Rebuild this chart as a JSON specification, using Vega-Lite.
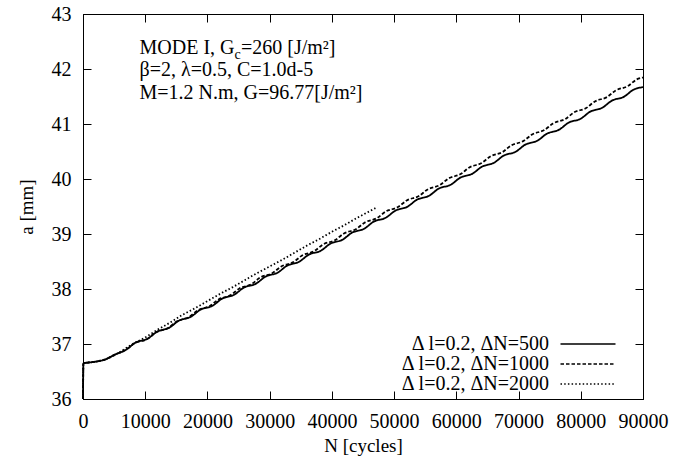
{
  "$schema": "https://vega.github.io/schema/vega-lite/v6.json",
  "width": 560,
  "height": 385,
  "autosize": "none",
  "padding": {"left": 83, "top": 14, "right": 51, "bottom": 65},
  "background": "white",
  "config": {
    "font": "Liberation Serif",
    "view": {"stroke": "black", "strokeWidth": 1},
    "axis": {
      "grid": false,
      "domainColor": "black",
      "tickColor": "black",
      "labelColor": "black",
      "titleColor": "black",
      "labelFont": "Liberation Serif",
      "titleFont": "Liberation Serif",
      "labelFontSize": 20,
      "titleFontSize": 19,
      "titleFontWeight": "normal",
      "tickSize": -8,
      "tickWidth": 1
    }
  },
  "datasets": {
    "curves": [
      {"s": "500", "N": 0, "a": 36.0},
      {"s": "500", "N": 60, "a": 36.65},
      {"s": "500", "N": 1500, "a": 36.67},
      {"s": "500", "N": 3000, "a": 36.70},
      {"s": "500", "N": 3600, "a": 36.72},
      {"s": "500", "N": 5000, "a": 36.80},
      {"s": "500", "N": 6970, "a": 36.90},
      {"s": "500", "N": 8370, "a": 37.02},
      {"s": "500", "N": 10450, "a": 37.10},
      {"s": "500", "N": 11850, "a": 37.22},
      {"s": "500", "N": 13930, "a": 37.30},
      {"s": "500", "N": 15330, "a": 37.42},
      {"s": "500", "N": 17410, "a": 37.50},
      {"s": "500", "N": 18810, "a": 37.62},
      {"s": "500", "N": 20890, "a": 37.70},
      {"s": "500", "N": 22290, "a": 37.82},
      {"s": "500", "N": 24370, "a": 37.90},
      {"s": "500", "N": 25770, "a": 38.02},
      {"s": "500", "N": 27850, "a": 38.10},
      {"s": "500", "N": 29250, "a": 38.22},
      {"s": "500", "N": 31330, "a": 38.30},
      {"s": "500", "N": 32730, "a": 38.42},
      {"s": "500", "N": 34810, "a": 38.50},
      {"s": "500", "N": 36210, "a": 38.62},
      {"s": "500", "N": 38290, "a": 38.70},
      {"s": "500", "N": 39690, "a": 38.82},
      {"s": "500", "N": 41770, "a": 38.90},
      {"s": "500", "N": 43170, "a": 39.02},
      {"s": "500", "N": 45250, "a": 39.10},
      {"s": "500", "N": 46650, "a": 39.22},
      {"s": "500", "N": 48730, "a": 39.30},
      {"s": "500", "N": 50130, "a": 39.42},
      {"s": "500", "N": 52210, "a": 39.50},
      {"s": "500", "N": 53610, "a": 39.62},
      {"s": "500", "N": 55690, "a": 39.70},
      {"s": "500", "N": 57090, "a": 39.82},
      {"s": "500", "N": 59170, "a": 39.90},
      {"s": "500", "N": 60570, "a": 40.02},
      {"s": "500", "N": 62650, "a": 40.10},
      {"s": "500", "N": 64050, "a": 40.22},
      {"s": "500", "N": 66130, "a": 40.30},
      {"s": "500", "N": 67530, "a": 40.42},
      {"s": "500", "N": 69610, "a": 40.50},
      {"s": "500", "N": 71010, "a": 40.62},
      {"s": "500", "N": 73090, "a": 40.70},
      {"s": "500", "N": 74490, "a": 40.82},
      {"s": "500", "N": 76570, "a": 40.90},
      {"s": "500", "N": 77970, "a": 41.02},
      {"s": "500", "N": 80050, "a": 41.10},
      {"s": "500", "N": 81450, "a": 41.22},
      {"s": "500", "N": 83530, "a": 41.30},
      {"s": "500", "N": 84930, "a": 41.42},
      {"s": "500", "N": 87010, "a": 41.50},
      {"s": "500", "N": 88410, "a": 41.62},
      {"s": "500", "N": 90000, "a": 41.67},

      {"s": "1000", "N": 0, "a": 36.0},
      {"s": "1000", "N": 60, "a": 36.65},
      {"s": "1000", "N": 1500, "a": 36.67},
      {"s": "1000", "N": 3000, "a": 36.70},
      {"s": "1000", "N": 3600, "a": 36.72},
      {"s": "1000", "N": 5000, "a": 36.80},
      {"s": "1000", "N": 6970, "a": 36.90},
      {"s": "1000", "N": 8370, "a": 37.02},
      {"s": "1000", "N": 10300, "a": 37.09},
      {"s": "1000", "N": 11700, "a": 37.21},
      {"s": "1000", "N": 13660, "a": 37.29},
      {"s": "1000", "N": 15060, "a": 37.41},
      {"s": "1000", "N": 17020, "a": 37.49},
      {"s": "1000", "N": 18420, "a": 37.61},
      {"s": "1000", "N": 20380, "a": 37.69},
      {"s": "1000", "N": 21780, "a": 37.81},
      {"s": "1000", "N": 23740, "a": 37.89},
      {"s": "1000", "N": 25140, "a": 38.01},
      {"s": "1000", "N": 27100, "a": 38.09},
      {"s": "1000", "N": 28500, "a": 38.21},
      {"s": "1000", "N": 30460, "a": 38.29},
      {"s": "1000", "N": 31860, "a": 38.41},
      {"s": "1000", "N": 33820, "a": 38.49},
      {"s": "1000", "N": 35220, "a": 38.61},
      {"s": "1000", "N": 37180, "a": 38.69},
      {"s": "1000", "N": 38580, "a": 38.81},
      {"s": "1000", "N": 40540, "a": 38.89},
      {"s": "1000", "N": 41940, "a": 39.01},
      {"s": "1000", "N": 43900, "a": 39.09},
      {"s": "1000", "N": 45300, "a": 39.21},
      {"s": "1000", "N": 47260, "a": 39.29},
      {"s": "1000", "N": 48660, "a": 39.41},
      {"s": "1000", "N": 50620, "a": 39.49},
      {"s": "1000", "N": 52020, "a": 39.61},
      {"s": "1000", "N": 53980, "a": 39.69},
      {"s": "1000", "N": 55380, "a": 39.81},
      {"s": "1000", "N": 57340, "a": 39.89},
      {"s": "1000", "N": 58740, "a": 40.01},
      {"s": "1000", "N": 60700, "a": 40.09},
      {"s": "1000", "N": 62100, "a": 40.21},
      {"s": "1000", "N": 64060, "a": 40.29},
      {"s": "1000", "N": 65460, "a": 40.41},
      {"s": "1000", "N": 67420, "a": 40.49},
      {"s": "1000", "N": 68820, "a": 40.61},
      {"s": "1000", "N": 70780, "a": 40.69},
      {"s": "1000", "N": 72180, "a": 40.81},
      {"s": "1000", "N": 74140, "a": 40.89},
      {"s": "1000", "N": 75540, "a": 41.01},
      {"s": "1000", "N": 77500, "a": 41.09},
      {"s": "1000", "N": 78900, "a": 41.21},
      {"s": "1000", "N": 80860, "a": 41.29},
      {"s": "1000", "N": 82260, "a": 41.41},
      {"s": "1000", "N": 84220, "a": 41.49},
      {"s": "1000", "N": 85620, "a": 41.61},
      {"s": "1000", "N": 87580, "a": 41.69},
      {"s": "1000", "N": 88980, "a": 41.81},
      {"s": "1000", "N": 90000, "a": 41.845},

      {"s": "2000", "N": 0, "a": 36.0},
      {"s": "2000", "N": 60, "a": 36.65},
      {"s": "2000", "N": 2000, "a": 36.68},
      {"s": "2000", "N": 4000, "a": 36.74},
      {"s": "2000", "N": 6000, "a": 36.86},
      {"s": "2000", "N": 8000, "a": 37.00},
      {"s": "2000", "N": 10000, "a": 37.12},
      {"s": "2000", "N": 12000, "a": 37.26},
      {"s": "2000", "N": 14000, "a": 37.39},
      {"s": "2000", "N": 16000, "a": 37.53},
      {"s": "2000", "N": 18000, "a": 37.65},
      {"s": "2000", "N": 20000, "a": 37.78},
      {"s": "2000", "N": 22000, "a": 37.91},
      {"s": "2000", "N": 24000, "a": 38.03},
      {"s": "2000", "N": 26000, "a": 38.16},
      {"s": "2000", "N": 28000, "a": 38.29},
      {"s": "2000", "N": 30000, "a": 38.41},
      {"s": "2000", "N": 32000, "a": 38.53},
      {"s": "2000", "N": 34000, "a": 38.66},
      {"s": "2000", "N": 36000, "a": 38.79},
      {"s": "2000", "N": 38000, "a": 38.91},
      {"s": "2000", "N": 40000, "a": 39.04},
      {"s": "2000", "N": 42000, "a": 39.16},
      {"s": "2000", "N": 44000, "a": 39.29},
      {"s": "2000", "N": 46000, "a": 39.41},
      {"s": "2000", "N": 47000, "a": 39.47}
    ],
    "ann": [
      {"N": 9080, "a": 42.27, "text": "MODE I, G"},
      {"N": 9080, "a": 41.865, "text": "β=2, λ=0.5, C=1.0d-5"},
      {"N": 9080, "a": 41.46, "text": "M=1.2 N.m, G=96.77[J/m²]"}
    ],
    "sub": [{"N": 9080, "a": 42.27, "text": "c"}],
    "rest": [{"N": 9080, "a": 42.27, "text": "=260 [J/m²]"}]
  },
  "layer": [
    {
      "data": {"name": "curves"},
      "mark": {"type": "line", "interpolate": "monotone", "stroke": "black", "strokeWidth": 1.8},
      "encoding": {
        "x": {
          "field": "N", "type": "quantitative",
          "scale": {"domain": [0, 90000], "nice": false, "zero": false},
          "axis": {"orient": "bottom", "values": [0, 10000, 20000, 30000, 40000, 50000, 60000, 70000, 80000, 90000], "format": "d", "title": "N [cycles]", "labelPadding": 20, "titlePadding": 5, "labelFlush": false}
        },
        "y": {
          "field": "a", "type": "quantitative",
          "scale": {"domain": [36, 43], "nice": false, "zero": false},
          "axis": {"orient": "left", "values": [36, 37, 38, 39, 40, 41, 42, 43], "format": "d", "title": "a [mm]", "labelPadding": 20, "titlePadding": 15, "labelFlush": false}
        },
        "strokeDash": {
          "field": "s", "type": "nominal",
          "scale": {"domain": ["500", "1000", "2000"], "range": [[1, 0], [3.5, 2], [1.5, 2.2]]},
          "legend": {
            "title": null,
            "orient": "none",
            "legendX": 495,
            "legendY": 320,
            "padding": 0,
            "rowPadding": -2.5,
            "symbolType": "M-5.5,0H5.5",
            "symbolSize": 100,
            "symbolStrokeWidth": 1.5,
            "symbolStrokeColor": "black",
            "symbolFillColor": "transparent",
            "labelFont": "Liberation Serif",
            "labelFontSize": 20,
            "labelColor": "black",
            "labelAlign": "right",
            "labelOffset": -49,
            "labelExpr": "'Δ l=0.2, ΔN=' + datum.label"
          }
        }
      }
    },
    {
      "data": {"name": "ann"},
      "mark": {"type": "text", "align": "left", "baseline": "alphabetic", "font": "Liberation Serif", "fontSize": 20, "color": "black"},
      "encoding": {
        "x": {"field": "N", "type": "quantitative", "axis": {"orient": "top", "labels": false, "title": null, "domain": false, "values": [0, 10000, 20000, 30000, 40000, 50000, 60000, 70000, 80000, 90000]}},
        "y": {"field": "a", "type": "quantitative", "axis": {"orient": "right", "labels": false, "title": null, "domain": false, "values": [36, 37, 38, 39, 40, 41, 42, 43]}},
        "text": {"field": "text"}
      }
    },
    {
      "data": {"name": "sub"},
      "mark": {"type": "text", "align": "left", "baseline": "alphabetic", "font": "Liberation Serif", "fontSize": 14, "color": "black", "dx": 95, "dy": 5},
      "encoding": {
        "x": {"field": "N", "type": "quantitative", "axis": null},
        "y": {"field": "a", "type": "quantitative", "axis": null},
        "text": {"field": "text"}
      }
    },
    {
      "data": {"name": "rest"},
      "mark": {"type": "text", "align": "left", "baseline": "alphabetic", "font": "Liberation Serif", "fontSize": 20, "color": "black", "dx": 101.5},
      "encoding": {
        "x": {"field": "N", "type": "quantitative", "axis": null},
        "y": {"field": "a", "type": "quantitative", "axis": null},
        "text": {"field": "text"}
      }
    }
  ],
  "resolve": {"axis": {"x": "independent", "y": "independent"}}
}
